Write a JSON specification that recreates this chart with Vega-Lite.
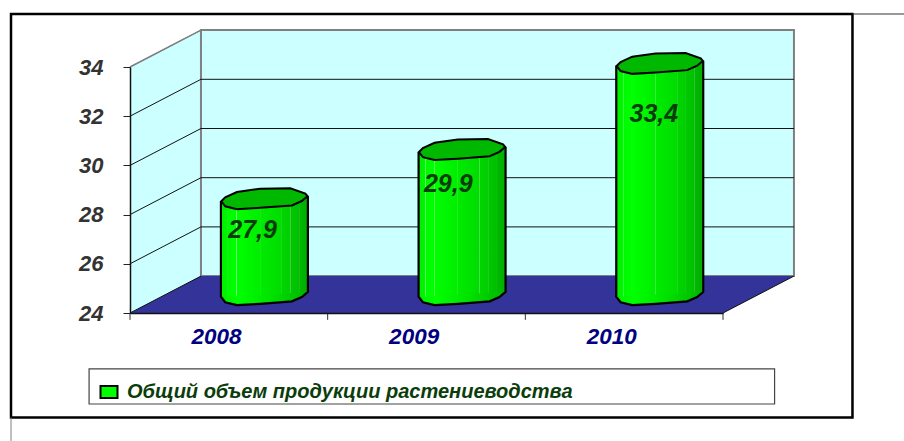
{
"$schema":"https://vega.github.io/schema/vega-lite/v6.json",
"autosize":{"type":"none"},
"width":593,"height":246,
"padding":{"left":130,"top":67,"right":181,"bottom":128},
"background":"white",
"view":{"stroke":null},
"config":{"font":"Liberation Sans"},
"datasets":{
 "bars":[{"year":2008,"value":27.9,"series":"Общий объем продукции растениеводства"},{"year":2009,"value":29.9,"series":"Общий объем продукции растениеводства"},{"year":2010,"value":33.4,"series":"Общий объем продукции растениеводства"}],
 "ticks":[{"tick":24},{"tick":26},{"tick":28},{"tick":30},{"tick":32},{"tick":34}],
 "cats":[{"cat":0},{"cat":1},{"cat":2},{"cat":3}]
},
"layer":[
{"data":{"values":[{}]},"mark":{"type":"rect","fill":"white","stroke":"black","strokeWidth":2.5},
 "encoding":{"x":{"datum":-0.602,"type":"quantitative","scale":{"domain":[0,3],"nice":false,"zero":false},"axis":{"values":[0.435,1.435,2.435],"title":null,"grid":false,"tickSize":0,"labelExpr":"floor(datum.value)+2008","labelFont":"Liberation Sans","labelFontWeight":"bold","labelFontStyle":"italic","labelFontSize":22.5,"labelColor":"#000080","labelPadding":12,"domainColor":"#111111","domainWidth":1.5,"zindex":1}},
  "x2":{"datum":3.655},
  "y":{"datum":36.154,"type":"quantitative","scale":{"domain":[24,34],"nice":false,"zero":false},"axis":{"values":[24,26,28,30,32,34],"title":null,"grid":false,"tickSize":7,"tickColor":"#222222","labelFont":"Liberation Sans","labelFontWeight":"bold","labelFontStyle":"italic","labelFontSize":22,"labelColor":"#333333","labelPadding":20,"domainColor":"#111111","domainWidth":1.5,"zindex":1}},
  "y2":{"datum":19.75}}},
{"data":{"values":[{}]},"mark":{"type":"rule","stroke":"#808080","strokeWidth":1},
 "encoding":{"x":{"datum":-0.602,"type":"quantitative"},"y":{"datum":19.75,"type":"quantitative"},"y2":{"datum":18.8}}},
{"data":{"values":[{}]},"mark":{"type":"rule","stroke":"#333333","strokeWidth":1},
 "encoding":{"x":{"datum":3.655,"type":"quantitative"},"x2":{"datum":3.916},"y":{"datum":36.154,"type":"quantitative"}}},
{"data":{"values":[{"x":0,"y":24,"y2":34},{"x":0.359,"y":25.5,"y2":35.5}]},"mark":{"type":"area","orient":"vertical","fill":"#CCFFFF"},
 "encoding":{"x":{"field":"x","type":"quantitative"},"y":{"field":"y","type":"quantitative"},"y2":{"field":"y2"}}},
{"data":{"values":[{}]},"mark":{"type":"rect","fill":"#CCFFFF","stroke":"#808080","strokeWidth":2},
 "encoding":{"x":{"datum":0.359,"type":"quantitative"},"x2":{"datum":3.359},"y":{"datum":25.5,"type":"quantitative"},"y2":{"datum":35.5}}},
{"data":{"values":[{"x":0,"y":24,"y2":24},{"x":0.359,"y":24,"y2":25.5},{"x":3,"y":24,"y2":25.5},{"x":3.359,"y":25.5,"y2":25.5}]},"mark":{"type":"area","orient":"vertical","fill":"#333399"},
 "encoding":{"x":{"field":"x","type":"quantitative"},"y":{"field":"y","type":"quantitative"},"y2":{"field":"y2"}}},
{"data":{"name":"ticks"},"transform":[{"filter":"datum.tick>24 && datum.tick<34"},{"calculate":"datum.tick+1.5","as":"back"}],"mark":{"type":"rule","stroke":"#111111","strokeWidth":1},
 "encoding":{"x":{"datum":0.359,"type":"quantitative"},"x2":{"datum":3.359},"y":{"field":"back","type":"quantitative"}}},
{"data":{"name":"ticks"},"transform":[{"calculate":"datum.tick+1.5","as":"back"}],"mark":{"type":"rule","strokeWidth":1},
 "encoding":{"x":{"datum":0,"type":"quantitative"},"x2":{"datum":0.359},"y":{"field":"tick","type":"quantitative"},"y2":{"field":"back"},
  "stroke":{"condition":{"test":"datum.tick==34","value":"#808080"},"value":"#111111"}}},
{"data":{"values":[{}]},"mark":{"type":"rule","stroke":"#111111","strokeWidth":1},
 "encoding":{"x":{"datum":3,"type":"quantitative"},"x2":{"datum":3.359},"y":{"datum":24,"type":"quantitative"},"y2":{"datum":25.5}}},
{"data":{"values":[{}]},"mark":{"type":"rule","stroke":"#808080","strokeWidth":1.5},
 "encoding":{"x":{"datum":0,"type":"quantitative"},"x2":{"datum":0.359},"y":{"datum":34,"type":"quantitative"},"y2":{"datum":35.5}}},
{"data":{"name":"cats"},"mark":{"type":"rule","stroke":"#333333","strokeWidth":1},
 "encoding":{"x":{"field":"cat","type":"quantitative"},"y":{"datum":24,"type":"quantitative"},"y2":{"datum":23.72}}},
{"data":{"name":"bars"},"transform":[{"calculate":"datum.year-2008+0.68","as":"cx"}],
 "mark":{"type":"point","filled":true,"shape":"M-0.98,0.06L-0.89,-0.03L-0.625,-0.15L-0.095,-0.225L0.587,-0.235L0.93,-0.115L0.98,-0.055L0.85,0.055L0.625,0.155L-0.095,0.21L-0.625,0.24L-0.89,0.175Z","size":7744,"opacity":1,"stroke":"black","strokeWidth":2.2,
  "fill":{"gradient":"linear","x1":0,"x2":1,"y1":0,"y2":0,"stops":[{"offset":0,"color":"#00EE00"},{"offset":0.2,"color":"#00FF00"},{"offset":0.6,"color":"#00E000"},{"offset":1,"color":"#00B400"}]}},
 "encoding":{"x":{"field":"cx","type":"quantitative"},"y":{"datum":24.75,"type":"quantitative"}}},
{"data":{"name":"bars"},"transform":[{"calculate":"datum.year-2008+0.46","as":"xl"},{"calculate":"datum.year-2008+0.90","as":"xr"},{"fold":["xl","xr"],"as":["edge","ex"]},{"calculate":"datum.value+0.75+(datum.edge=='xl'?-0.1:0.1)","as":"yt"},{"calculate":"24.75+(datum.edge=='xl'?-0.1:0.1)","as":"yb"}],
 "mark":{"type":"area","orient":"vertical","fill":{"gradient":"linear","x1":0,"x2":1,"y1":0,"y2":0,"stops":[
  {"offset":0,"color":"#00EE00"},{"offset":0.075,"color":"#00F600"},{"offset":0.08,"color":"#66FF66"},{"offset":0.087,"color":"#00FA00"},{"offset":0.175,"color":"#00FF00"},{"offset":0.18,"color":"#88FF88"},{"offset":0.187,"color":"#00FF00"},{"offset":0.445,"color":"#00EE00"},{"offset":0.45,"color":"#44EE44"},{"offset":0.457,"color":"#00EB00"},{"offset":0.695,"color":"#00DC00"},{"offset":0.7,"color":"#44E044"},{"offset":0.707,"color":"#00D400"},{"offset":0.795,"color":"#00CE00"},{"offset":0.8,"color":"#44CC44"},{"offset":0.807,"color":"#00C800"},{"offset":0.895,"color":"#00C000"},{"offset":0.9,"color":"#33C033"},{"offset":0.907,"color":"#00B800"},{"offset":1,"color":"#00AE00"}]}},
 "encoding":{"x":{"field":"ex","type":"quantitative"},"y":{"field":"yt","type":"quantitative"},"y2":{"field":"yb"},"detail":{"field":"year","type":"nominal"}}},
{"data":{"name":"bars"},"transform":[{"calculate":"datum.year-2008+0.46","as":"xl"},{"calculate":"datum.year-2008+0.90","as":"xr"},{"fold":["xl","xr"],"as":["edge","ex"]},{"calculate":"datum.value+0.75+(datum.edge=='xl'?-0.1:0.1)","as":"yt"},{"calculate":"24.75+(datum.edge=='xl'?-0.1:0.1)","as":"yb"}],
 "mark":{"type":"rule","stroke":"black","strokeWidth":2.2},
 "encoding":{"x":{"field":"ex","type":"quantitative"},"y":{"field":"yt","type":"quantitative"},"y2":{"field":"yb"}}},
{"data":{"name":"bars"},"transform":[{"calculate":"datum.year-2008+0.68","as":"cx"},{"calculate":"datum.value+0.75","as":"cy"}],
 "mark":{"type":"point","filled":true,"shape":"M-0.98,0.06L-0.89,-0.03L-0.625,-0.15L-0.095,-0.225L0.587,-0.235L0.93,-0.115L0.98,-0.055L0.85,0.055L0.625,0.155L-0.095,0.21L-0.625,0.24L-0.89,0.175Z","size":7744,"opacity":1,"fill":"#00B800","stroke":"black","strokeWidth":2},
 "encoding":{"x":{"field":"cx","type":"quantitative"},"y":{"field":"cy","type":"quantitative"}}},
{"data":{"name":"bars"},"transform":[{"calculate":"datum.year==2008?0.62:(datum.year==2009?1.61:2.65)","as":"lx"},{"calculate":"datum.year==2008?27.37:(datum.year==2009?29.24:32.1)","as":"ly"},{"calculate":"replace(format(datum.value,'.1f'),'.',',')","as":"txt"}],
 "mark":{"type":"text","font":"Liberation Sans","fontWeight":"bold","fontStyle":"italic","fontSize":25,"fill":"#0B3D0B","baseline":"middle","align":"center"},
 "encoding":{"x":{"field":"lx","type":"quantitative"},"y":{"field":"ly","type":"quantitative"},"text":{"field":"txt","type":"nominal"}}},
{"data":{"values":[{}]},"mark":{"type":"rect","fill":"white","stroke":"#444444","strokeWidth":1.2},
 "encoding":{"x":{"datum":-0.207,"type":"quantitative"},"x2":{"datum":3.261},"y":{"datum":21.73,"type":"quantitative"},"y2":{"datum":20.3}}},
{"data":{"name":"bars"},"mark":{"type":"point","filled":true,"opacity":0,"size":1},
 "encoding":{"x":{"datum":0,"type":"quantitative"},"y":{"datum":24,"type":"quantitative"},
  "fill":{"field":"series","type":"nominal","scale":{"range":["#00FF00"]},
   "legend":{"title":null,"orient":"none","legendX":-31,"legendY":315,"padding":0,"symbolType":"M-1,-0.7H1V0.7H-1Z","symbolSize":289,"symbolStrokeColor":"black","symbolStrokeWidth":2,"symbolOpacity":1,"labelFont":"Liberation Sans","labelFontWeight":"bold","labelFontStyle":"italic","labelFontSize":20,"labelColor":"#0B3D0B","labelLimit":600,"labelOffset":8}}}}
]
}
